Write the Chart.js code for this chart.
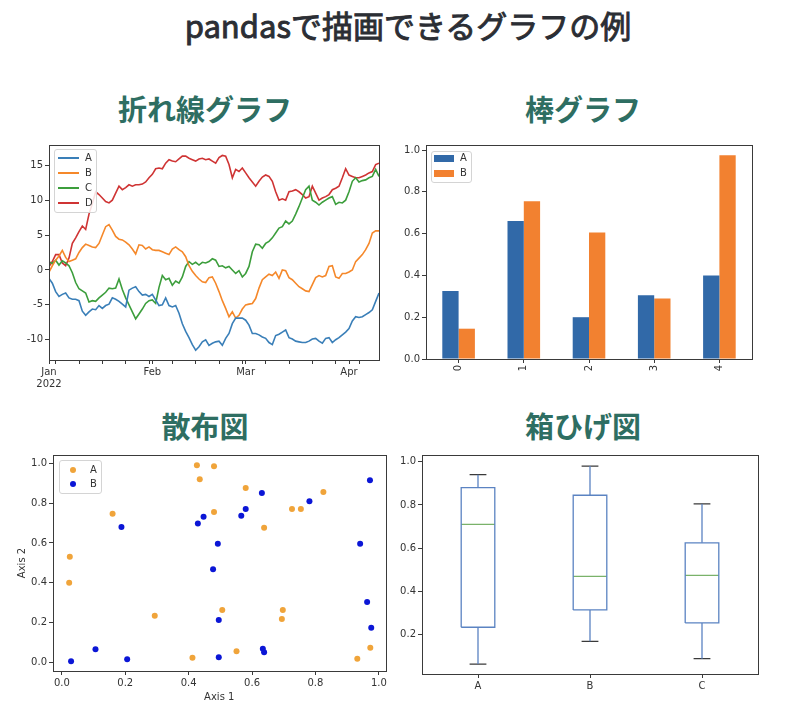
<!DOCTYPE html>
<html>
<head>
<meta charset="utf-8">
<script src="https://cdn.jsdelivr.net/npm/chart.js@4.4.1/dist/chart.umd.min.js"></script>
<style>
html,body{margin:0;padding:0;background:#fff;}
#page{position:relative;width:794px;height:720px;overflow:hidden;font-family:"Noto Sans CJK JP",sans-serif;}
.title{position:absolute;left:11px;top:5px;width:794px;text-align:center;font-size:31px;line-height:40px;color:#2b2e34;font-weight:400;white-space:nowrap;-webkit-text-stroke:0.9px #2b2e34;}
.sub{position:absolute;width:300px;text-align:center;font-size:29px;line-height:36px;font-weight:700;color:#2e6e62;white-space:nowrap;}
canvas{position:absolute;}
.legend{position:absolute;box-sizing:border-box;border:1px solid #d4d4d4;border-radius:3px;background:rgba(255,255,255,0.85);}
.ltext{position:absolute;font-family:"DejaVu Sans",sans-serif;font-size:10px;line-height:12px;color:#333;}
.sw{position:absolute;}
</style>
</head>
<body>
<div id="page">
  <div class="title">pandasで描画できるグラフの例</div>
  <div class="sub" style="left:55px;top:90px;">折れ線グラフ</div>
  <div class="sub" style="left:433px;top:90px;">棒グラフ</div>
  <div class="sub" style="left:55px;top:407px;">散布図</div>
  <div class="sub" style="left:433px;top:407px;">箱ひげ図</div>
  <canvas id="c1" width="395" height="260" style="left:0px;top:135px;"></canvas>
  <canvas id="c2" width="399" height="260" style="left:395px;top:135px;"></canvas>
  <canvas id="c3" width="395" height="275" style="left:0px;top:445px;"></canvas>
  <canvas id="c4" width="399" height="275" style="left:395px;top:445px;"></canvas>
</div>
<script>
// ---------- data: line chart (daily, 2022-01-01 .. 2022-04-10) ----------
const lineNames = ['A','B','C','D'];
const lineA = [-1.2,-1.9,-3.1,-3.8,-3.5,-3.3,-4.0,-4.2,-4.2,-4.4,-5.9,-6.5,-6.0,-5.6,-5.7,-5.1,-5.5,-5.1,-4.9,-4.0,
  -4.2,-4.5,-4.9,-5.3,-2.9,-2.6,-2.4,-3.1,-3.6,-3.5,-3.8,-3.5,-4.3,-5.1,
  -5.0,-4.0,-5.1,-5.3,-5.1,-6.2,-7.7,-8.8,-9.7,-10.7,-11.5,-11.0,-10.3,-10.0,-10.8,-10.5,-10.3,-10.2,-10.8,-9.8,
  -9.1,-7.7,-6.9,-6.9,-6.9,-7.2,-7.9,-9.1,-9.1,-9.3,-9.6,-9.8,
  -10.4,-10.7,-9.4,-9.2,-8.9,-8.6,-9.7,-9.9,-10.2,-10.3,-10.4,-10.4,-10.2,-9.9,-9.8,-10.2,-10.5,-9.8,-9.7,-10.4,
  -10.0,-9.7,-9.3,-8.9,-8.4,-7.3,-6.7,-6.8,-6.7,-6.4,-6.1,-5.7,-4.5,-3.3];
const lineB = [-0.3,0.6,1.4,2.0,2.8,1.8,1.2,1.4,1.6,2.5,3.2,3.7,3.5,3.3,3.2,3.8,5.0,6.2,6.5,5.7,
  4.8,4.4,4.3,4.0,3.6,3.0,2.3,3.6,3.5,3.0,3.3,2.9,2.8,2.8,
  2.6,2.4,2.2,3.0,3.3,2.9,2.6,1.9,0.6,-0.2,-0.8,-1.3,-1.7,-1.8,-1.1,-1.0,-1.9,-3.1,-4.4,-5.5,
  -6.7,-6.0,-6.9,-6.5,-5.6,-5.0,-4.9,-4.8,-4.1,-2.6,-1.4,-1.0,
  -0.6,-0.8,-0.3,-1.2,0.0,-0.1,-1.1,-1.4,-1.9,-2.4,-2.7,-3.0,-3.1,-2.1,-1.1,-0.8,-1.0,-0.8,0.5,0.6,
  -1.0,-1.2,-0.5,-0.5,-0.3,0.0,1.2,1.7,2.2,2.9,3.8,5.3,5.6,5.6];
const lineC = [1.2,0.9,1.4,0.7,1.3,1.0,0.6,-0.4,-1.8,-2.7,-3.0,-3.3,-4.6,-4.4,-4.5,-4.0,-3.6,-3.2,-2.6,-2.7,
  -2.6,-1.3,-2.8,-4.0,-5.0,-6.0,-7.0,-6.3,-5.6,-4.8,-4.4,-4.3,-4.8,-2.5,
  -0.8,-1.4,-1.2,-2.2,-1.6,-1.9,-1.0,0.5,1.2,0.8,1.1,0.7,1.1,1.0,1.2,1.6,1.4,0.5,0.6,0.3,
  0.5,0.0,-0.5,-0.1,-1.0,-0.5,0.5,2.6,3.7,3.6,3.1,3.8,
  4.1,4.6,5.3,6.0,6.2,7.0,6.6,7.0,8.0,9.1,10.3,11.5,12.0,10.0,9.7,9.3,9.7,10.0,10.3,10.5,
  9.4,9.7,9.6,10.0,11.2,12.7,13.2,12.6,12.8,12.9,13.2,13.4,14.4,13.4];
const lineD = [0.5,1.2,2.2,2.2,1.0,0.6,1.7,3.8,4.6,5.5,6.3,5.8,8.0,9.5,11.2,10.8,10.3,9.8,9.6,10.0,
  11.0,12.0,11.5,11.8,12.2,12.0,12.2,12.2,12.3,12.6,13.2,13.7,14.5,14.6,
  14.5,15.3,15.8,15.6,15.5,15.9,16.3,16.3,16.0,15.8,15.6,15.9,16.0,15.8,15.9,15.6,15.3,16.1,16.4,16.3,
  15.1,13.2,14.4,14.1,14.6,13.9,13.2,12.6,12.0,12.7,13.3,13.6,
  13.4,12.7,11.2,10.0,10.2,10.0,11.2,11.3,11.5,11.2,10.8,10.3,10.5,12.0,11.0,10.0,10.3,10.5,10.8,11.5,
  11.7,12.0,13.2,14.5,13.6,13.4,13.2,13.2,13.4,13.6,13.9,14.1,15.1,15.3];
const lineColors = ['#3a7fb8','#f5882a','#3c9e3c','#cf3434'];
const monthTicks = [0,31,59,90];
const monthLabels = [['Jan','2022'],'Feb','Mar','Apr'];
const weekTicks = [2,9,16,23,30,37,44,51,58,65,72,79,86,93];
const lineYTicks = [-10,-5,0,5,10,15];

// ---------- data: bar chart ----------
const barCats = ['0','1','2','3','4'];
const barA = [0.325,0.66,0.20,0.305,0.40];
const barB = [0.145,0.755,0.605,0.29,0.975];
const barYTicks = [0,0.2,0.4,0.6,0.8,1.0];

// ---------- data: scatter ----------
const scatAX = [0.025,0.023,0.16,0.293,0.412,0.426,0.435,0.48,0.48,0.58,0.638,0.726,0.754,0.825,0.506,0.697,0.694,0.551,0.932,0.973];
const scatAY = [0.53,0.40,0.747,0.234,0.023,0.99,0.92,0.986,0.755,0.876,0.676,0.77,0.77,0.856,0.263,0.263,0.218,0.055,0.018,0.073];
const scatBX = [0.029,0.106,0.206,0.188,0.429,0.447,0.492,0.477,0.495,0.495,0.631,0.566,0.58,0.781,0.972,0.941,0.963,0.976,0.634,0.638];
const scatBY = [0.005,0.065,0.015,0.68,0.697,0.732,0.596,0.467,0.213,0.025,0.851,0.737,0.77,0.81,0.915,0.596,0.303,0.174,0.068,0.05];
const scatTicks = [0,0.2,0.4,0.6,0.8,1.0];

// ---------- data: box plot ----------
const boxCats = ['A','B','C'];
const boxMin = [0.065,0.17,0.09];
const boxQ1  = [0.235,0.315,0.255];
const boxMed = [0.71,0.47,0.475];
const boxQ3  = [0.88,0.845,0.625];
const boxMax = [0.94,0.98,0.805];
const boxYTicks = [0.2,0.4,0.6,0.8,1.0];

// ---------- common ----------
Chart.defaults.font.family = "'DejaVu Sans', sans-serif";
Chart.defaults.font.size = 10;
Chart.defaults.color = '#333';
Chart.defaults.animation = false;
Chart.defaults.plugins.legend.display = false;
Chart.defaults.plugins.tooltip.enabled = false;

const INK = '#3a3a3a';
const framePlugin = {
  id: 'frame',
  afterDraw(chart) {
    const {ctx, chartArea: a} = chart;
    ctx.save();
    ctx.strokeStyle = INK;
    ctx.lineWidth = 1;
    ctx.strokeRect(Math.round(a.left) + 0.5, Math.round(a.top) + 0.5, Math.round(a.right) - Math.round(a.left), Math.round(a.bottom) - Math.round(a.top));
    ctx.restore();
  }
};

function axis(opts) {
  const o = {
    grid: {display: true, drawOnChartArea: false, drawTicks: true, tickLength: 4, tickColor: INK, tickWidth: 1, offset: false},
    border: {display: false},
    ticks: {padding: 2, color: '#333', font: {size: 10}, autoSkip: false, maxRotation: 0, minRotation: 0}
  };
  if (opts.fixW !== undefined) o.afterFit = s => { s.width = opts.fixW; };
  if (opts.fixH !== undefined) o.afterFit = s => { s.height = opts.fixH; };
  if (opts.tickVals) o.afterBuildTicks = s => { s.ticks = opts.tickVals.map(v => ({value: v})); };
  if (opts.callback) o.ticks.callback = opts.callback;
  if (opts.rot !== undefined) { o.ticks.maxRotation = opts.rot; o.ticks.minRotation = opts.rot; }
  ['type','min','max','title','position'].forEach(k => { if (opts[k] !== undefined) o[k] = opts[k]; });
  return o;
}

// ---------- 1: line chart ----------
const lineSeries = [lineA, lineB, lineC, lineD];
new Chart(document.getElementById('c1'), {
  type: 'line',
  data: {
    datasets: lineSeries.map((arr, k) => ({
      label: lineNames[k],
      data: arr.map((v, i) => ({x: i, y: v})),
      borderColor: lineColors[k],
      borderWidth: 1.6,
      pointRadius: 0,
      tension: 0,
      fill: false
    }))
  },
  options: {
    responsive: false,
    layout: {padding: {top: 10, right: 16, left: 0, bottom: 0}},
    scales: {
      x: axis({type: 'linear', min: 0, max: lineA.length - 1, fixH: 35,
        tickVals: monthTicks.concat(weekTicks).sort((a, b) => a - b),
        callback: v => { const i = monthTicks.indexOf(v); return i >= 0 ? monthLabels[i] : ''; }}),
      y: axis({type: 'linear', min: -12.9, max: 17.9, fixW: 49, tickVals: lineYTicks,
        callback: v => String(v)})
    }
  },
  plugins: [framePlugin]
});

// ---------- 2: bar chart ----------
new Chart(document.getElementById('c2'), {
  type: 'bar',
  data: {
    labels: barCats,
    datasets: [
      {label: 'A', data: barA, backgroundColor: '#3169a8', categoryPercentage: 0.5, barPercentage: 1.0},
      {label: 'B', data: barB, backgroundColor: '#f28130', categoryPercentage: 0.5, barPercentage: 1.0}
    ]
  },
  options: {
    responsive: false,
    layout: {padding: {top: 10, right: 42, left: 0, bottom: 0}},
    scales: {
      x: axis({fixH: 36, rot: 90}),
      y: axis({type: 'linear', min: 0, max: 1.024, fixW: 31, tickVals: barYTicks, callback: v => v.toFixed(1)})
    }
  },
  plugins: [framePlugin]
});

// ---------- 3: scatter ----------
new Chart(document.getElementById('c3'), {
  type: 'scatter',
  data: {
    datasets: [
      {label: 'A', data: scatAX.map((x, i) => ({x: x, y: scatAY[i]})), backgroundColor: '#f0a43a', borderWidth: 0, pointRadius: 3},
      {label: 'B', data: scatBX.map((x, i) => ({x: x, y: scatBY[i]})), backgroundColor: '#0b16d6', borderWidth: 0, pointRadius: 3}
    ]
  },
  options: {
    responsive: false,
    layout: {padding: {top: 10, right: 9.5, left: 0, bottom: 0}},
    scales: {
      x: axis({type: 'linear', min: -0.028, max: 1.021, fixH: 49, tickVals: scatTicks, callback: v => v.toFixed(1),
        title: {display: true, text: 'Axis 1', color: '#333', font: {size: 10}, padding: {top: 0, bottom: 17}}}),
      y: axis({type: 'linear', min: -0.044, max: 1.042, fixW: 53, tickVals: scatTicks, callback: v => v.toFixed(1),
        title: {display: true, text: 'Axis 2', color: '#333', font: {size: 10}, padding: {top: 16, bottom: 0}}})
    }
  },
  plugins: [framePlugin]
});

// ---------- 4: box plot ----------
const BOX_HALF = 0.15, CAP_HALF = 0.075;
function segments(list) {
  const out = [];
  list.forEach(seg => { seg.forEach(p => out.push(p)); out.push({x: seg[0].x, y: null}); });
  return out;
}
const boxSegs = [], whiskSegs = [], capSegs = [], medSegs = [];
boxCats.forEach((c, i) => {
  const x = i + 1;
  boxSegs.push([{x: x - BOX_HALF, y: boxQ1[i]}, {x: x + BOX_HALF, y: boxQ1[i]}, {x: x + BOX_HALF, y: boxQ3[i]}, {x: x - BOX_HALF, y: boxQ3[i]}, {x: x - BOX_HALF, y: boxQ1[i]}]);
  whiskSegs.push([{x: x, y: boxQ1[i]}, {x: x, y: boxMin[i]}]);
  whiskSegs.push([{x: x, y: boxQ3[i]}, {x: x, y: boxMax[i]}]);
  capSegs.push([{x: x - CAP_HALF, y: boxMin[i]}, {x: x + CAP_HALF, y: boxMin[i]}]);
  capSegs.push([{x: x - CAP_HALF, y: boxMax[i]}, {x: x + CAP_HALF, y: boxMax[i]}]);
  medSegs.push([{x: x - BOX_HALF, y: boxMed[i]}, {x: x + BOX_HALF, y: boxMed[i]}]);
});
function segDs(label, segs, color) {
  return {label: label, data: segments(segs), showLine: true, spanGaps: false, borderColor: color, borderWidth: 1.3,
    pointRadius: 0, backgroundColor: 'transparent', fill: false};
}
new Chart(document.getElementById('c4'), {
  type: 'scatter',
  data: {
    datasets: [
      segDs('whiskers', whiskSegs, '#5b83c2'),
      segDs('boxes', boxSegs, '#5b83c2'),
      segDs('medians', medSegs, '#7ab26a'),
      segDs('caps', capSegs, '#3a3a3a')
    ]
  },
  options: {
    responsive: false,
    layout: {padding: {top: 10, right: 36, left: 0, bottom: 0}},
    scales: {
      x: axis({type: 'linear', min: 0.5, max: boxCats.length + 0.5, fixH: 46, tickVals: boxCats.map((c, i) => i + 1),
        callback: v => boxCats[Math.round(v) - 1]}),
      y: axis({type: 'linear', min: 0.019, max: 1.031, fixW: 27, tickVals: boxYTicks, callback: v => v.toFixed(1)})
    }
  },
  plugins: [framePlugin]
});

// ---------- legends (HTML) ----------
const page = document.getElementById('page');
function addLegend(box, items) {
  const b = document.createElement('div');
  b.className = 'legend';
  Object.assign(b.style, {left: box.l + 'px', top: box.t + 'px', width: box.w + 'px', height: box.h + 'px'});
  page.appendChild(b);
  items.forEach(it => {
    const sw = document.createElement('div');
    sw.className = 'sw';
    if (it.kind === 'line') {
      Object.assign(sw.style, {left: it.sx + 'px', top: (it.cy - 1) + 'px', width: '21px', height: '2px', background: it.color});
    } else if (it.kind === 'rect') {
      Object.assign(sw.style, {left: it.sx + 'px', top: (it.cy - 3.5) + 'px', width: '20px', height: '7px', background: it.color});
    } else {
      Object.assign(sw.style, {left: (it.sx - 3) + 'px', top: (it.cy - 3) + 'px', width: '6px', height: '6px', borderRadius: '50%', background: it.color});
    }
    page.appendChild(sw);
    const t = document.createElement('div');
    t.className = 'ltext';
    t.textContent = it.label;
    Object.assign(t.style, {left: it.tx + 'px', top: (it.cy - 6) + 'px'});
    page.appendChild(t);
  });
}
addLegend({l: 54, t: 149, w: 43, h: 64}, lineNames.map((n, k) => ({kind: 'line', label: n, color: lineColors[k], sx: 57.5, tx: 85, cy: 158.3 + 15 * k})));
addLegend({l: 431, t: 151, w: 41, h: 32}, [
  {kind: 'rect', label: 'A', color: '#3169a8', sx: 433.5, tx: 460, cy: 158.3},
  {kind: 'rect', label: 'B', color: '#f28130', sx: 433.5, tx: 460, cy: 173.3}
]);
addLegend({l: 59, t: 460, w: 43, h: 34}, [
  {kind: 'dot', label: 'A', color: '#f0a43a', sx: 73.3, tx: 90, cy: 470},
  {kind: 'dot', label: 'B', color: '#0b16d6', sx: 73.3, tx: 90, cy: 484.3}
]);
</script>
</body>
</html>
